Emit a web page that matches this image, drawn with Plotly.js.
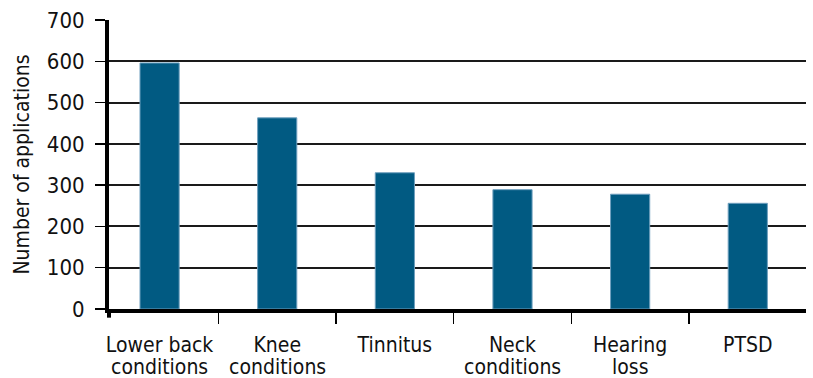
<!DOCTYPE html>
<html>
<head>
<meta charset="utf-8">
<script src="https://cdn.plot.ly/plotly-3.0.1.min.js"></script>
<style>html,body{margin:0;padding:0;background:#fff;}#chart{width:813px;height:378px;}</style>
</head>
<body>
<div id="chart"></div>
<script>
var categories = ["Lower back conditions", "Knee conditions", "Tinnitus", "Neck conditions", "Hearing loss", "PTSD"];
var labelLine1 = ["Lower back", "Knee", "Tinnitus", "Neck", "Hearing", "PTSD"];
var labelLine2 = ["conditions", "conditions", "", "conditions", "loss", ""];
var applications = [596, 463, 330, 289, 278, 256];
var yTickValues = [0, 100, 200, 300, 400, 500, 600, 700];

var FONT = "DejaVu Sans Condensed, DejaVu Sans, sans-serif";

var trace = {
  type: "bar",
  x: categories,
  y: applications,
  marker: {color: "#015a82", line: {color: "#6f9fbe", width: 1}},
  width: 0.333,
  hoverinfo: "none"
};

var xRange = [-0.43, 5.495];

var secondLineAnnotations = [];
categories.forEach(function (c, i) {
  if (labelLine2[i]) {
    secondLineAnnotations.push({
      xref: "x", yref: "paper",
      x: c, y: 0,
      xanchor: "center", yanchor: "top",
      yshift: -44,
      text: labelLine2[i],
      showarrow: false,
      font: {family: FONT, size: 21, color: "#111"}
    });
  }
});

var layout = {
  width: 813,
  height: 378,
  margin: {l: 109, r: 7, t: 20, b: 69},
  paper_bgcolor: "#ffffff",
  plot_bgcolor: "#ffffff",
  showlegend: false,
  font: {family: FONT, size: 21, color: "#111"},
  xaxis: {
    type: "category",
    range: xRange,
    tickmode: "array",
    tickvals: categories,
    ticktext: labelLine1,
    tickson: "boundaries",
    ticks: "outside",
    ticklen: 11,
    tickwidth: 1.5,
    tickcolor: "#000",
    showline: true,
    linecolor: "#000",
    linewidth: 4,
    showgrid: false,
    zeroline: false,
    ticklabelstandoff: 14,
    tickfont: {family: FONT, size: 21, color: "#111"},
    fixedrange: true
  },
  yaxis: {
    range: [0, 700],
    tickmode: "array",
    tickvals: yTickValues,
    ticktext: yTickValues.map(String),
    ticks: "outside",
    ticklen: 10,
    tickwidth: 1.5,
    tickcolor: "#000",
    showline: true,
    linecolor: "#000",
    linewidth: 4,
    showgrid: true,
    gridcolor: "#1a1a1a",
    gridwidth: 2,
    zeroline: false,
    ticklabelstandoff: 6,
    tickfont: {family: FONT, size: 22, color: "#111"},
    title: {text: "Number of applications", font: {family: FONT, size: 21, color: "#111"}, standoff: 12},
    fixedrange: true
  },
  annotations: secondLineAnnotations,
  shapes: [{
    type: "line", xref: "paper", yref: "paper",
    x0: 0, x1: 0, y0: 0, y1: -0.03,
    line: {color: "#000", width: 4}
  }]
};

Plotly.newPlot("chart", [trace], layout, {displayModeBar: false, staticPlot: true});
</script>
</body>
</html>
